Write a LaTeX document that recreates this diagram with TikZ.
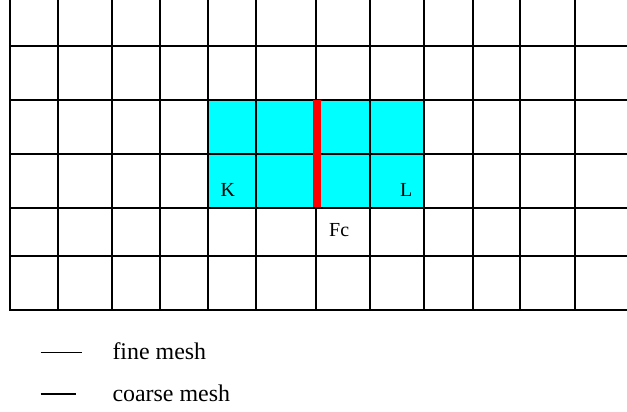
\documentclass[tikz,border=0pt]{standalone}
\usepackage{fontspec}
\setmainfont{Liberation Serif}
\definecolor{cellcyan}{RGB}{0,255,255}
\definecolor{facered}{RGB}{255,0,0}
\begin{document}
\begin{tikzpicture}[x=1bp,y=-1bp,
  fine/.style={line width=1.1bp,black},
  coarse/.style={line width=2.5bp,black,line cap=rect},
  lbl/.style={font=\fontsize{20}{24}\selectfont,inner sep=0pt},
  leg/.style={font=\fontsize{24}{28}\selectfont,inner sep=0pt,anchor=base west}]
\useasboundingbox (0,0) rectangle (627,411);
\fill[white] (0,0) rectangle (627,411);
\begin{scope}
  \clip (0,0) rectangle (627,411);
  \fill[cellcyan] (208,100) rectangle (424,208);
  \foreach \x in {58,160,256,370,473,575} \draw[fine] (\x,-10) -- (\x,310);
  \foreach \y in {46,154,256} \draw[fine] (10,\y) -- (640,\y);
  \foreach \x in {10,112,208,316,424,520,628} \draw[coarse] (\x,-10) -- (\x,310);
  \foreach \y in {-8,100,208,310} \draw[coarse] (10,\y) -- (640,\y);
  \draw[facered,line width=8bp] (316.7,100) -- (316.7,207);
\end{scope}
\node[lbl] (K) at (227.7,189.5) {K};
\node[lbl] (L) at (406.3,190) {L};
\node[lbl] (Fc) at (339.2,230) {Fc};
\coordinate (fa) at (40.7,352.3);
\coordinate (fb) at (82.3,352.3);
\coordinate (ca) at (40.7,394);
\coordinate (cb) at (76,394);
\draw[fine] (fa) -- (fb);
\draw[line width=2.2bp,black] (ca) -- (cb);
\node[leg] (finetext) at (112.3,359.3) {fine mesh};
\node[leg] (coarsetext) at (112.3,401.7) {coarse mesh};
\end{tikzpicture}
\end{document}
